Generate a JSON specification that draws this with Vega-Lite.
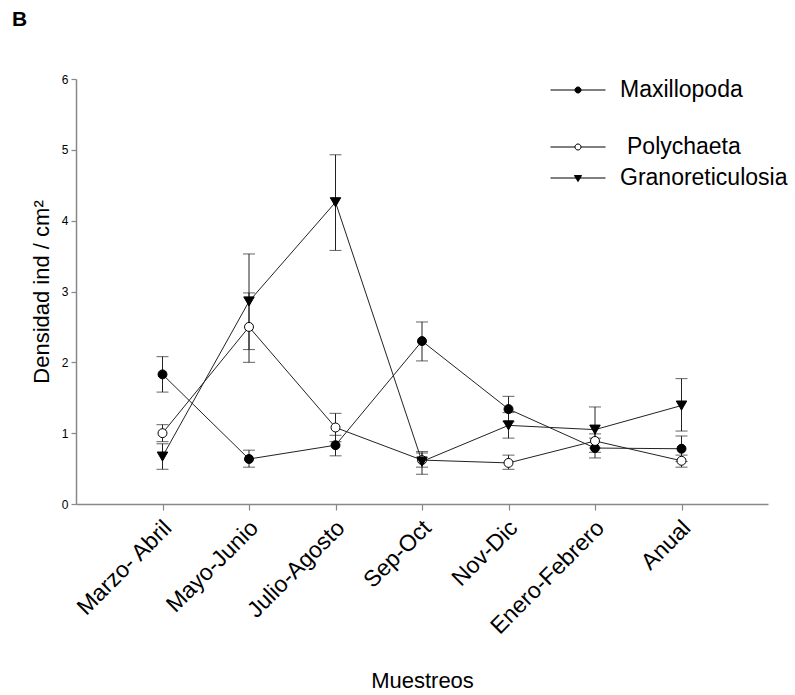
{
  "$schema": "https://vega.github.io/schema/vega-lite/v6.json",
  "width": 692,
  "height": 425,
  "autosize": {"type": "none"},
  "padding": {"left": 76, "top": 79, "right": 27, "bottom": 191},
  "background": "white",
  "config": {
    "view": {"stroke": null},
    "font": "Liberation Sans",
    "axis": {"domainColor": "#888888", "domainWidth": 1.5, "tickColor": "#888888", "tickWidth": 1.2, "labelColor": "black", "titleColor": "black", "titleFontWeight": "normal", "grid": false},
    "legend": {"title": null, "padding": 0, "symbolSize": 3025, "symbolStrokeWidth": 1, "symbolStrokeColor": "black", "labelFontSize": 23, "labelFont": "Liberation Sans", "labelOffset": 14, "labelColor": "black", "labelLimit": 400}
  },
  "title": {"text": "B", "anchor": "start", "frame": "group", "dx": -64, "offset": 32, "fontSize": 21, "fontWeight": "bold", "font": "Liberation Sans"},
  "data": {"values": [
    {"serie": "Maxillopoda", "mes": 1, "media": 1.83, "lo": 1.58, "hi": 2.08},
    {"serie": "Maxillopoda", "mes": 2, "media": 0.635, "lo": 0.52, "hi": 0.76},
    {"serie": "Maxillopoda", "mes": 3, "media": 0.83, "lo": 0.68, "hi": 0.97},
    {"serie": "Maxillopoda", "mes": 4, "media": 2.30, "lo": 2.02, "hi": 2.57},
    {"serie": "Maxillopoda", "mes": 5, "media": 1.34, "lo": 1.16, "hi": 1.52},
    {"serie": "Maxillopoda", "mes": 6, "media": 0.79, "lo": 0.65, "hi": 0.93},
    {"serie": "Maxillopoda", "mes": 7, "media": 0.78, "lo": 0.60, "hi": 0.96},
    {"serie": "Polychaeta", "mes": 1, "media": 1.00, "lo": 0.88, "hi": 1.12},
    {"serie": "Polychaeta", "mes": 2, "media": 2.50, "lo": 2.00, "hi": 2.98},
    {"serie": "Polychaeta", "mes": 3, "media": 1.08, "lo": 0.88, "hi": 1.28},
    {"serie": "Polychaeta", "mes": 4, "media": 0.62, "lo": 0.52, "hi": 0.72},
    {"serie": "Polychaeta", "mes": 5, "media": 0.58, "lo": 0.49, "hi": 0.69},
    {"serie": "Polychaeta", "mes": 6, "media": 0.89, "lo": 0.79, "hi": 0.99},
    {"serie": "Polychaeta", "mes": 7, "media": 0.61, "lo": 0.52, "hi": 0.69},
    {"serie": "Granoreticulosia", "mes": 1, "media": 0.67, "lo": 0.49, "hi": 0.85},
    {"serie": "Granoreticulosia", "mes": 2, "media": 2.86, "lo": 2.18, "hi": 3.53},
    {"serie": "Granoreticulosia", "mes": 3, "media": 4.26, "lo": 3.58, "hi": 4.93},
    {"serie": "Granoreticulosia", "mes": 4, "media": 0.60, "lo": 0.42, "hi": 0.74},
    {"serie": "Granoreticulosia", "mes": 5, "media": 1.11, "lo": 0.93, "hi": 1.29},
    {"serie": "Granoreticulosia", "mes": 6, "media": 1.05, "lo": 0.73, "hi": 1.37},
    {"serie": "Granoreticulosia", "mes": 7, "media": 1.39, "lo": 1.03, "hi": 1.77}
  ]},
  "encoding": {
    "x": {"field": "mes", "type": "quantitative",
      "scale": {"domain": [0, 8], "nice": false, "zero": false},
      "axis": {"title": "Muestreos", "titleFontSize": 22, "titlePadding": 32,
        "values": [1, 2, 3, 4, 5, 6, 7],
        "labelExpr": "['', 'Marzo- Abril', 'Mayo-Junio', 'Julio-Agosto', 'Sep-Oct', 'Nov-Dic', 'Enero-Febrero', 'Anual'][datum.value]",
        "labelAngle": -45, "labelAlign": "right", "labelBaseline": "middle", "labelFontSize": 23, "tickSize": 6, "labelPadding": 14, "labelOffset": 5, "labelFlush": false, "labelOverlap": false, "labelBound": false}}
  },
  "layer": [
    {
      "mark": {"type": "rule", "color": "#222222", "strokeWidth": 1},
      "encoding": {
        "y": {"field": "lo", "type": "quantitative", "scale": {"domain": [0, 6], "nice": false},
          "axis": {"title": "Densidad ind / cm²", "titleFontSize": 22, "titlePadding": 8, "values": [0, 1, 2, 3, 4, 5, 6], "format": "d", "labelFontSize": 12, "tickSize": 5, "labelPadding": 3}},
        "y2": {"field": "hi"}
      }
    },
    {
      "mark": {"type": "tick", "orient": "horizontal", "color": "#222222", "size": 12, "thickness": 1},
      "encoding": {"y": {"field": "lo", "type": "quantitative"}}
    },
    {
      "mark": {"type": "tick", "orient": "horizontal", "color": "#222222", "size": 12, "thickness": 1},
      "encoding": {"y": {"field": "hi", "type": "quantitative"}}
    },
    {
      "mark": {"type": "line", "color": "#222222", "strokeWidth": 1},
      "encoding": {
        "y": {"field": "media", "type": "quantitative"},
        "detail": {"field": "serie", "type": "nominal"}
      }
    },
    {
      "transform": [{"filter": "datum.serie === 'Maxillopoda'"}],
      "mark": {"type": "point", "filled": true, "fill": "black", "strokeWidth": 1, "opacity": 1, "size": 80},
      "encoding": {
        "y": {"field": "media", "type": "quantitative"},
        "stroke": {"field": "serie", "type": "nominal", "scale": {"range": ["black"]},
          "legend": {"orient": "none", "legendX": 474, "legendY": -17,
            "symbolType": "M-1,0H-0.11M0.11,0H1M0.11,0A0.11,0.11,0,1,1,-0.11,0A0.11,0.11,0,1,1,0.11,0Z",
            "symbolFillColor": "black"}}
      }
    },
    {
      "transform": [{"filter": "datum.serie === 'Polychaeta'"}],
      "mark": {"type": "point", "filled": true, "fill": "white", "strokeWidth": 1, "opacity": 1, "size": 80},
      "encoding": {
        "y": {"field": "media", "type": "quantitative"},
        "stroke": {"field": "serie", "type": "nominal", "scale": {"range": ["black"]},
          "legend": {"orient": "none", "legendX": 474, "legendY": 40, "labelOffset": 21,
            "symbolType": "M-1,0H-0.11M0.11,0H1M0.11,0A0.11,0.11,0,1,1,-0.11,0A0.11,0.11,0,1,1,0.11,0Z",
            "symbolFillColor": "white"}}
      }
    },
    {
      "transform": [{"filter": "datum.serie === 'Granoreticulosia'"}],
      "mark": {"type": "point", "shape": "triangle-down", "filled": true, "fill": "black", "strokeWidth": 1, "opacity": 1, "size": 110},
      "encoding": {
        "y": {"field": "media", "type": "quantitative"},
        "stroke": {"field": "serie", "type": "nominal", "scale": {"range": ["black"]},
          "legend": {"orient": "none", "legendX": 474, "legendY": 71,
            "symbolType": "M-1,0H1M-0.13,-0.09L0.13,-0.09L0,0.13Z",
            "symbolFillColor": "black"}}
      }
    }
  ],
  "resolve": {"scale": {"stroke": "independent"}, "legend": {"stroke": "independent"}}
}
